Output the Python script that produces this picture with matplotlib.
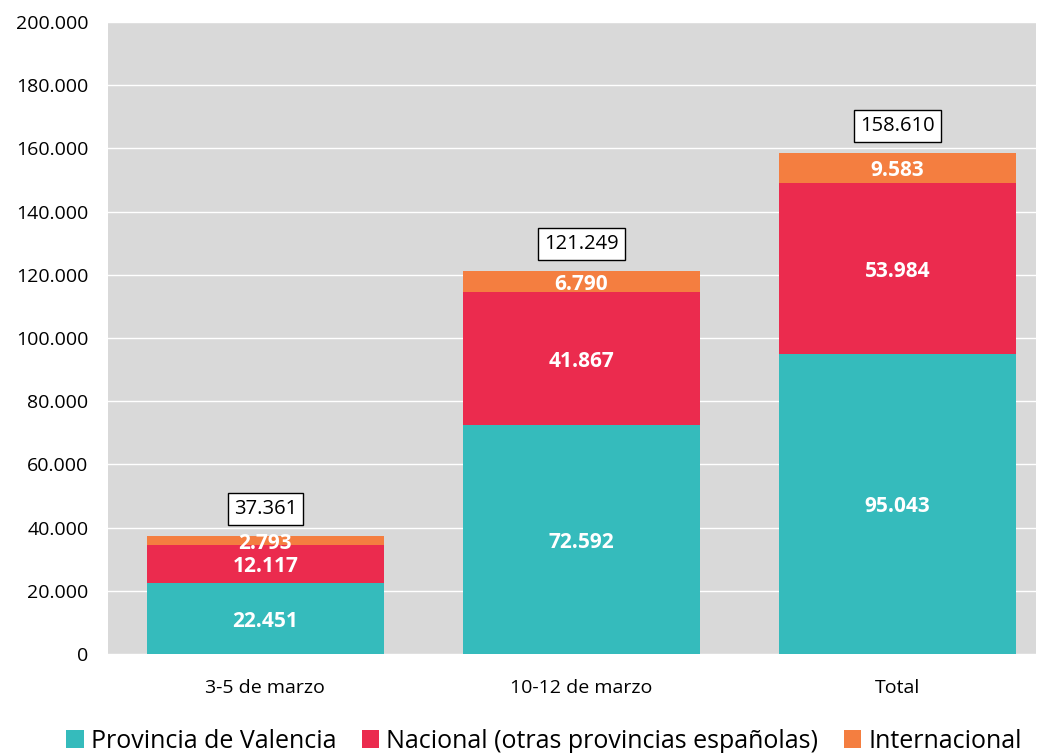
import matplotlib
matplotlib.use("Agg")
import matplotlib.pyplot as plt
import numpy as np
from matplotlib.ticker import FuncFormatter

categories = ["3-5 de marzo", "10-12 de marzo", "Total"]
series_names = ["Provincia de Valencia", "Nacional (otras provincias españolas)", "Internacional"]
valencia = [22451, 72592, 95043]
nacional = [12117, 41867, 53984]
internacional = [2793, 6790, 9583]
totals = [37361, 121249, 158610]
colors = ["#35BBBC", "#EB2B4E", "#F47E40"]

def fmt(v):
    return f"{int(v):,}".replace(",", ".")

plt.rcParams['font.family'] = ['Open Sans', 'DejaVu Sans']

fig = plt.figure(figsize=(10.41, 7.53), dpi=100)
ax = fig.add_axes([108/1041, 1-654/753, (1036-108)/1041, (654-22)/753])
ax.set_facecolor("#D9D9D9")

x = np.arange(len(categories))
width = 0.75
bottom = np.zeros(len(categories))
for vals, name, c in zip([valencia, nacional, internacional], series_names, colors):
    vals = np.array(vals, dtype=float)
    ax.bar(x, vals, width, bottom=bottom, color=c, label=name, zorder=3)
    for xi, b, v in zip(x, bottom, vals):
        ax.annotate(fmt(v), xy=(xi, b + v/2), xytext=(0, -3), textcoords="offset pixels",
                    ha="center", va="center", color="white",
                    fontsize=15, fontweight="bold", zorder=4)
    bottom += vals

for xi, t in zip(x, totals):
    ax.annotate(fmt(t), xy=(xi, t), xytext=(0, 27), textcoords="offset pixels",
                ha="center", va="center", fontsize=14.5, color="black",
                bbox=dict(boxstyle="square,pad=0.3", fc="white", ec="black", lw=1), zorder=5)

ax.set_xlim(-0.498, 2.438)
ax.set_ylim(0, 200000)
ax.set_yticks(np.arange(0, 200001, 20000))
ax.yaxis.set_major_formatter(FuncFormatter(lambda v, p: fmt(v)))
ax.set_xticks(x)
ax.set_xticklabels(categories)
ax.tick_params(axis="both", length=0, labelsize=14)
ax.tick_params(axis="x", pad=18)
ax.tick_params(axis="y", pad=14)
ax.grid(axis="y", color="white", lw=1, zorder=0)
ax.set_axisbelow(True)
for s in ax.spines.values():
    s.set_visible(False)

leg = fig.legend(loc="center", bbox_to_anchor=(544/1041, 1-741/753), ncol=3, frameon=False,
                 fontsize=18, handlelength=0.7, handleheight=0.7, handletextpad=0.3,
                 columnspacing=1.0, borderaxespad=0)

fig.savefig("out.png", dpi=100)
